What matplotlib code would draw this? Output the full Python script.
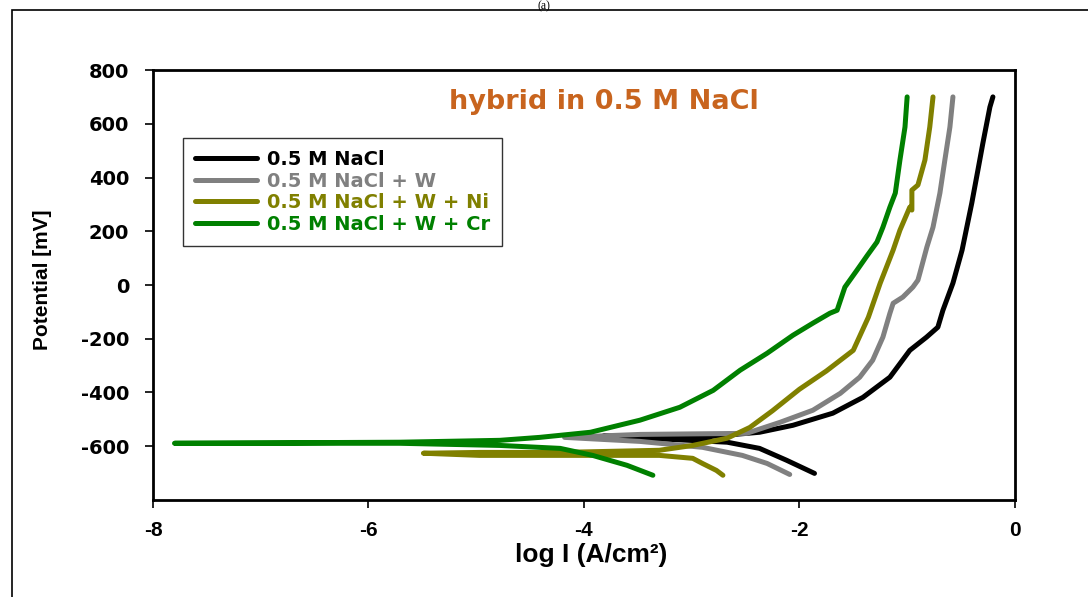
import matplotlib.pyplot as plt
from matplotlib.patches import Rectangle

# log I (A/cm2) and potential (mV), cathodic end -> Ecorr -> anodic top
nacl_x = [-1.86, -2.12, -2.37, -2.67, -3.82, -2.92, -2.37, -2.06, -1.69, -1.41, -1.16,
          -0.975, -0.82, -0.715, -0.668, -0.575, -0.49, -0.40, -0.343, -0.297, -0.232, -0.204]
nacl_y = [-701, -652, -608, -585, -562, -567, -548, -522, -477, -418, -343,
          -243, -194, -157, -94, 7, 130, 305, 428, 528, 662, 700]

w_x = [-2.09, -2.30, -2.53, -2.90, -3.48, -4.18, -3.48, -2.49, -2.18, -1.875, -1.62, -1.44,
       -1.32, -1.225, -1.16, -1.13, -1.04, -0.947, -0.90, -0.882, -0.817, -0.76, -0.696,
       -0.65, -0.603, -0.575]
w_y = [-705, -664, -634, -604, -582, -567, -556, -552, -511, -466, -403, -343,
       -280, -194, -105, -68, -45, -8, 18, 44, 141, 215, 342, 465, 588, 700]

ni_x = [-2.71, -2.77, -2.90, -2.99, -3.30, -4.22, -4.97, -5.49, -4.97, -4.22, -3.30, -2.99,
        -2.67, -2.46, -2.25, -2.00, -1.75, -1.50, -1.36, -1.25, -1.13, -1.067,
        -0.975, -0.956, -0.956, -0.90, -0.835, -0.79, -0.76]
ni_y = [-708, -690, -664, -645, -634, -634, -634, -626, -623, -623, -615, -597,
        -570, -530, -468, -388, -320, -243, -120, 7, 130, 204,
        290, 279, 353, 372, 465, 588, 700]

cr_x = [-3.36, -3.60, -3.92, -4.22, -4.78, -5.71, -7.80, -5.71, -4.78, -4.41, -3.94, -3.48,
        -3.11, -2.80, -2.55, -2.30, -2.06, -1.875, -1.717, -1.65, -1.578, -1.466, -1.37,
        -1.28, -1.225, -1.16, -1.11, -1.067, -1.02, -1.0]
cr_y = [-708, -671, -634, -608, -597, -589, -589, -585, -578, -567, -548, -503,
        -455, -392, -317, -254, -187, -142, -105, -94, -8, 55, 110,
        160, 215, 290, 342, 465, 588, 700]

series = [
    ('0.5 M NaCl', nacl_x, nacl_y, 'black'),
    ('0.5 M NaCl + W', w_x, w_y, '#808080'),
    ('0.5 M NaCl + W + Ni', ni_x, ni_y, '#808000'),
    ('0.5 M NaCl + W + Cr', cr_x, cr_y, '#008000'),
]

xticks = [-8, -6, -4, -2, 0]
yticks = [-600, -400, -200, 0, 200, 400, 600, 800]

narrow = ['Liberation Sans Narrow', 'Liberation Sans', 'DejaVu Sans']
plt.rcParams['font.family'] = ['DejaVu Sans']

fig = plt.figure(figsize=(10.88, 5.97), dpi=100)
ax = fig.add_axes([0.1406, 0.1625, 0.7922, 0.7202])

# outer frame of the figure panel
fig.patches.append(Rectangle((0.011, -0.1), 1.2, 1.083, transform=fig.transFigure,
                             fill=False, edgecolor='black', linewidth=1.2))
fig.text(0.5, 1.0, '(a)', ha='center', va='top', fontsize=8.5,
         family=['Liberation Serif', 'DejaVu Serif'])

for label, xs, ys, color in series:
    ax.plot(xs, ys, color=color, linewidth=3.6, label=label,
            solid_capstyle='round', solid_joinstyle='round')

ax.set_xlim(-8, 0)
ax.set_ylim(-800, 800)
ax.set_xticks(xticks)
ax.set_yticks(yticks)
ax.set_xticklabels([str(t) for t in xticks], fontsize=15, fontweight='bold', family=narrow)
ax.set_yticklabels([str(t) for t in yticks], fontsize=14, fontweight='bold')
ax.tick_params(axis='both', direction='out', length=6, width=1.2)
ax.tick_params(axis='x', pad=9)
ax.tick_params(axis='y', pad=11)
for sp in ax.spines.values():
    sp.set_linewidth(2)

ax.set_xlabel('log I (A/cm²)', fontsize=19, fontweight='bold', family=narrow)
ax.xaxis.set_label_coords(0.509, -0.1)
ax.set_ylabel('Potential [mV]', fontsize=15, fontweight='bold', family=narrow)
ax.yaxis.set_label_coords(-0.117, 0.512)

ax.text(0.523, 0.926, 'hybrid in 0.5 M NaCl', transform=ax.transAxes, ha='center',
        va='center', fontsize=19.5, fontweight='bold', color='#c8641e')

leg = ax.legend(loc='upper left', bbox_to_anchor=(0.0348, 0.842), frameon=True,
                fancybox=False, handlelength=3.2, handletextpad=0.5,
                labelspacing=0.13, borderpad=0.62, borderaxespad=0,
                prop={'weight': 'bold', 'size': 14})
leg.get_frame().set_edgecolor('black')
leg.get_frame().set_linewidth(1.0)
for txt, (_, _, _, color) in zip(leg.get_texts(), series):
    txt.set_color(color)

fig.savefig('out.png', dpi=100)
